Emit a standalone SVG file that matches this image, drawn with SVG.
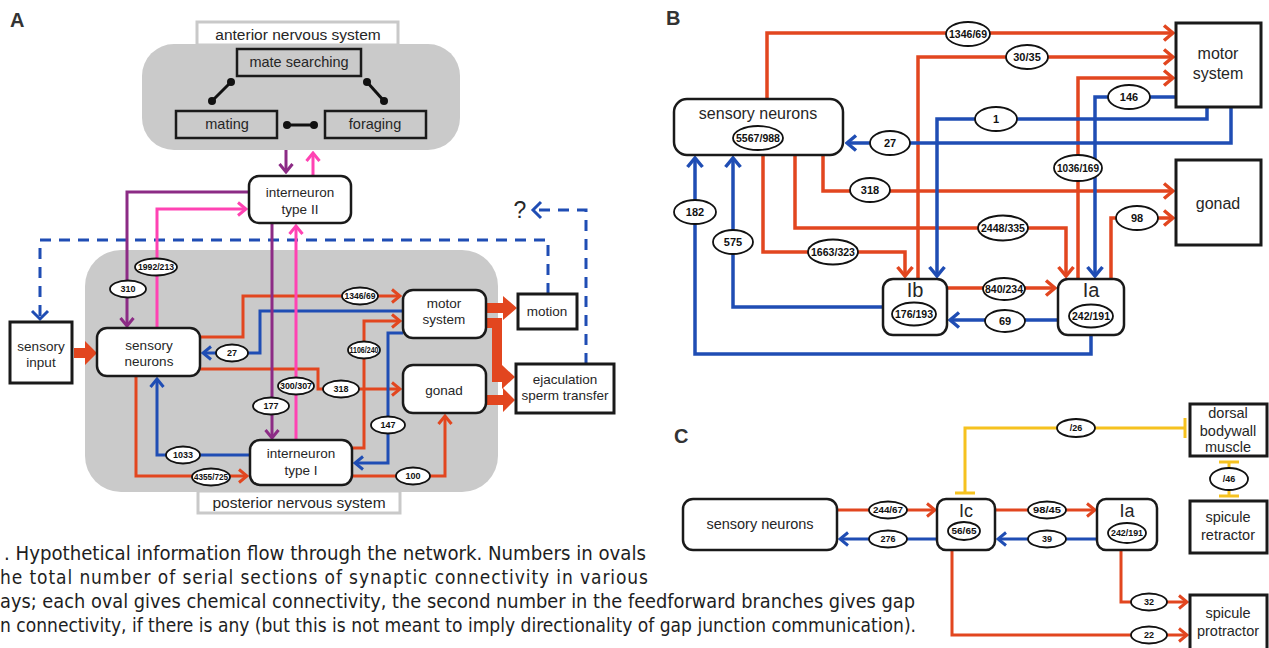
<svg xmlns="http://www.w3.org/2000/svg" width="1269" height="648" viewBox="0 0 1269 648">
<style>
text{font-family:"Liberation Sans",Arial,sans-serif;fill:#262626}
.lbl{font-size:20px;font-weight:bold;fill:#333}
.tA{font-size:13.5px;text-anchor:middle}
.tAn{font-size:14.5px;text-anchor:middle}
.tL{font-size:15.5px;text-anchor:middle}
.tB{font-size:16px;text-anchor:middle}
.tC{font-size:14.5px;text-anchor:middle}
.big{font-size:20px;text-anchor:middle}
.bigC{font-size:18px;text-anchor:middle}
.box{fill:#fff;stroke:#1a1a1a;stroke-width:2.5}
.sq{fill:#fff;stroke:#1a1a1a;stroke-width:3}
.gbox{fill:#cacaca;stroke:#1a1a1a;stroke-width:2.5}
.gray{fill:#cacaca}
.lab{fill:#fff;stroke:#c9c9c9;stroke-width:3}
.ov{fill:#fff;stroke:#111;stroke-width:1.8}
.oa{font-size:9px;font-weight:bold;text-anchor:middle;fill:#111}
.ob{font-size:11px;font-weight:bold;text-anchor:middle;fill:#111}
.oc{font-size:9px;font-weight:bold;text-anchor:middle;fill:#111}
.ln{fill:none;stroke-width:3}
.lnB{fill:none;stroke-width:3.5}
.r{stroke:#e2461f}
.b{stroke:#1f4db4}
.p{stroke:#8c2b85}
.k{stroke:#ff43b3}
.y{stroke:#f6c21f}
.dash{fill:none;stroke:#1f4db4;stroke-width:3;stroke-dasharray:11 8}
.thick{fill:#e2461f}
.db{stroke:#111;stroke-width:3}
.dot{fill:#111}
.cap{font-family:"DejaVu Sans Condensed","Roboto","Liberation Sans",sans-serif;font-size:19px;fill:#1e1e1e}
</style>
<defs>
<marker id="mR" viewBox="0 0 12 16" refX="10" refY="8" markerWidth="12" markerHeight="16" markerUnits="userSpaceOnUse" orient="auto"><path d="M2,1.5 L10,8 L2,14.5" fill="none" stroke="#e2461f" stroke-width="3"/></marker>
<marker id="mB" viewBox="0 0 12 16" refX="10" refY="8" markerWidth="12" markerHeight="16" markerUnits="userSpaceOnUse" orient="auto"><path d="M2,1.5 L10,8 L2,14.5" fill="none" stroke="#1f4db4" stroke-width="3"/></marker>
<marker id="mP" viewBox="0 0 12 16" refX="10" refY="8" markerWidth="12" markerHeight="16" markerUnits="userSpaceOnUse" orient="auto"><path d="M2,1.5 L10,8 L2,14.5" fill="none" stroke="#8c2b85" stroke-width="3"/></marker>
<marker id="mK" viewBox="0 0 12 16" refX="10" refY="8" markerWidth="12" markerHeight="16" markerUnits="userSpaceOnUse" orient="auto"><path d="M2,1.5 L10,8 L2,14.5" fill="none" stroke="#ff43b3" stroke-width="3"/></marker>
<marker id="mR2" viewBox="0 0 13 18" refX="11" refY="9" markerWidth="13" markerHeight="18" markerUnits="userSpaceOnUse" orient="auto"><path d="M2,1.5 L11,9 L2,16.5" fill="none" stroke="#e2461f" stroke-width="3.5"/></marker>
<marker id="mB2" viewBox="0 0 13 18" refX="11" refY="9" markerWidth="13" markerHeight="18" markerUnits="userSpaceOnUse" orient="auto"><path d="M2,1.5 L11,9 L2,16.5" fill="none" stroke="#1f4db4" stroke-width="3.5"/></marker>
<marker id="tY" viewBox="0 0 4 20" refX="2" refY="10" markerWidth="4" markerHeight="20" markerUnits="userSpaceOnUse" orient="auto"><path d="M2,0 V20" stroke="#f6c21f" stroke-width="3"/></marker>
</defs>

<!-- Panel labels -->
<text class="lbl" x="10" y="27">A</text>
<text class="lbl" x="666" y="25">B</text>
<text class="lbl" x="674" y="443">C</text>

<!-- ===== Panel A backgrounds ===== -->
<g id="anterior-system">
<rect class="lab" x="197" y="22" width="201" height="23"/>
<rect class="gray" x="142" y="44" width="318" height="106" rx="32"/>
<text class="tL" x="298" y="40">anterior nervous system</text>
</g>
<g id="posterior-system">
<rect class="gray" x="85" y="250" width="413" height="242" rx="36"/>
<rect class="lab" x="198" y="491" width="202" height="22"/>
<text class="tL" x="299" y="508">posterior nervous system</text>
</g>

<!-- ===== Panel A connectors ===== -->
<g id="connectors-A">
<line class="db" x1="212" y1="101" x2="231" y2="82"/><circle class="dot" cx="212" cy="101" r="4"/><circle class="dot" cx="231" cy="82" r="4"/>
<line class="db" x1="367" y1="82" x2="384" y2="101"/><circle class="dot" cx="367" cy="82" r="4"/><circle class="dot" cx="384" cy="101" r="4"/>
<line class="db" x1="287" y1="125" x2="314" y2="125"/><circle class="dot" cx="287" cy="125" r="4"/><circle class="dot" cx="314" cy="125" r="4"/>

<path class="ln p" d="M286,150 V172" marker-end="url(#mP)"/>
<path class="ln k" d="M313,176 V153" marker-end="url(#mK)"/>

<path class="dash" d="M548,294 V240 H40 V319" />
<path d="M32,311 L40,319 L48,311" fill="none" stroke="#1f4db4" stroke-width="3"/>
<path class="dash" d="M586,364 V210 H534"/>
<path d="M541,202 L533,210 L541,218" fill="none" stroke="#1f4db4" stroke-width="3"/>

<path class="ln p" d="M249,192 H127 V326" marker-end="url(#mP)"/>
<path class="ln k" d="M157,328 V209 H246" marker-end="url(#mK)"/>
<path class="ln r" d="M200,337 H243 V296 H400" marker-end="url(#mR)"/>
<path class="ln b" d="M403,311 H260 V353 H203" marker-end="url(#mB)"/>
<path class="ln r" d="M200,369 H318 V389 H400" marker-end="url(#mR)"/>
<path class="ln r" d="M136,376 V476 H247" marker-end="url(#mR)"/>
<path class="ln b" d="M250,455 H157 V379" marker-end="url(#mB)"/>
<path class="ln r" d="M352,448 H364 V321 H400" marker-end="url(#mR)"/>
<path class="ln b" d="M403,333 H388 V463 H355" marker-end="url(#mB)"/>
<path class="ln r" d="M352,476 H445 V416" marker-end="url(#mR)"/>
<path class="ln p" d="M272,223 V438" marker-end="url(#mP)"/>
<path class="ln k" d="M296,440 V226" marker-end="url(#mK)"/>

<polygon class="thick" points="74,348 85,348 85,341 97,353 85,365 85,358 74,358"/>
<polygon class="thick" points="486,303 503,303 503,296 517,308 503,320 503,313 486,313"/>
<polyline points="486,323 497,323 497,377 503,377" fill="none" stroke="#e2461f" stroke-width="10"/>
<polygon class="thick" points="502,365 515,377 502,389"/>
<polygon class="thick" points="486,395 503,395 503,388 515,400 503,412 503,405 486,405"/>

<text x="520" y="218" font-size="23" text-anchor="middle">?</text>

<g id="ovals-A">
<ellipse class="ov" cx="128" cy="289" rx="18" ry="8.5"/><text class="oa" x="128" y="292">310</text>
<ellipse class="ov" cx="156" cy="267" rx="21" ry="8.5"/><text class="oa" x="156" y="270" textLength="36" lengthAdjust="spacingAndGlyphs">1992/213</text>
<ellipse class="ov" cx="232" cy="353" rx="16" ry="8.5"/><text class="oa" x="232" y="356">27</text>
<ellipse class="ov" cx="360" cy="296" rx="18" ry="8.5"/><text class="oa" x="360" y="299" textLength="31" lengthAdjust="spacingAndGlyphs">1346/69</text>
<ellipse class="ov" cx="271" cy="406" rx="18" ry="8.5"/><text class="oa" x="271" y="409">177</text>
<ellipse class="ov" cx="296" cy="386" rx="18" ry="8.5"/><text class="oa" x="296" y="389" textLength="32" lengthAdjust="spacingAndGlyphs">300/307</text>
<ellipse class="ov" cx="341" cy="389" rx="18" ry="8.5"/><text class="oa" x="341" y="392">318</text>
<ellipse class="ov" cx="364" cy="350" rx="16" ry="8.5"/><text class="oa" x="364" y="353" textLength="29" lengthAdjust="spacingAndGlyphs">1106/240</text>
<ellipse class="ov" cx="388" cy="425" rx="17" ry="8.5"/><text class="oa" x="388" y="428">147</text>
<ellipse class="ov" cx="183" cy="455" rx="17" ry="8.5"/><text class="oa" x="183" y="458">1033</text>
<ellipse class="ov" cx="211" cy="477" rx="19" ry="8.5"/><text class="oa" x="211" y="480" textLength="34" lengthAdjust="spacingAndGlyphs">4355/725</text>
<ellipse class="ov" cx="413" cy="476" rx="17" ry="8.5"/><text class="oa" x="413" y="479">100</text>
</g>
</g>

<!-- ===== Panel A nodes ===== -->
<g id="mate-searching"><rect class="gbox" x="237" y="49" width="124" height="27"/><text class="tAn" x="299" y="67">mate searching</text></g>
<g id="mating"><rect class="gbox" x="176" y="111" width="101" height="27"/><text class="tAn" x="227" y="129">mating</text></g>
<g id="foraging"><rect class="gbox" x="325" y="111" width="101" height="27"/><text class="tAn" x="375" y="129">foraging</text></g>
<g id="interneuron-II"><rect class="box" x="249" y="176" width="102" height="47" rx="10"/><text class="tA" x="300" y="197">interneuron</text><text class="tA" x="300" y="214">type II</text></g>
<g id="interneuron-I"><rect class="box" x="250" y="440" width="102" height="45" rx="10"/><text class="tA" x="301" y="458">interneuron</text><text class="tA" x="301" y="475">type I</text></g>
<g id="sensory-input"><rect class="sq" x="10" y="322" width="62" height="61"/><text class="tA" x="41" y="351">sensory</text><text class="tA" x="41" y="367">input</text></g>
<g id="sensory-neurons-A"><rect class="box" x="97" y="328" width="103" height="48" rx="10"/><text class="tA" x="149" y="350">sensory</text><text class="tA" x="149" y="366">neurons</text></g>
<g id="motor-system-A"><rect class="box" x="403" y="290" width="83" height="48" rx="10"/><text class="tA" x="444" y="308">motor</text><text class="tA" x="444" y="324">system</text></g>
<g id="gonad-A"><rect class="box" x="403" y="365" width="83" height="48" rx="10"/><text class="tA" x="444" y="395">gonad</text></g>
<g id="motion"><rect class="sq" x="518" y="294" width="59" height="35"/><text class="tA" x="547" y="316">motion</text></g>
<g id="ejaculation"><rect class="sq" x="516" y="364" width="98" height="49"/><text class="tA" x="565" y="384">ejaculation</text><text class="tA" x="565" y="400">sperm transfer</text></g>

<!-- ===== Panel B connectors ===== -->
<g id="connectors-B">
<path class="lnB r" d="M767,99 V33 H1173" marker-end="url(#mR2)"/>
<path class="lnB r" d="M918,279 V57 H1173" marker-end="url(#mR2)"/>
<path class="lnB r" d="M1078,279 V78 H1173" marker-end="url(#mR2)"/>
<path class="lnB r" d="M823,155 V191 H1173" marker-end="url(#mR2)"/>
<path class="lnB r" d="M795,155 V228 H1066 V276" marker-end="url(#mR2)"/>
<path class="lnB r" d="M763,155 V252 H905 V276" marker-end="url(#mR2)"/>
<path class="lnB r" d="M947,288 H1055" marker-end="url(#mR2)"/>
<path class="lnB r" d="M1111,279 V218 H1173" marker-end="url(#mR2)"/>
<path class="lnB b" d="M1176,97 H1095 V276" marker-end="url(#mB2)"/>
<path class="lnB b" d="M1207,107 V119 H937 V276" marker-end="url(#mB2)"/>
<path class="lnB b" d="M1231,107 V143 H847" marker-end="url(#mB2)"/>
<path class="lnB b" d="M1058,320 H950" marker-end="url(#mB2)"/>
<path class="lnB b" d="M883,307 H733 V158" marker-end="url(#mB2)"/>
<path class="lnB b" d="M1091,335 V354 H695 V158" marker-end="url(#mB2)"/>
<g id="ovals-B">
<ellipse class="ov" cx="968" cy="34" rx="22" ry="12"/><text class="ob" x="968" y="38" textLength="38" lengthAdjust="spacingAndGlyphs">1346/69</text>
<ellipse class="ov" cx="1027" cy="57" rx="21" ry="12"/><text class="ob" x="1027" y="61">30/35</text>
<ellipse class="ov" cx="1078" cy="168" rx="24" ry="13"/><text class="ob" x="1078" y="172" textLength="42" lengthAdjust="spacingAndGlyphs">1036/169</text>
<ellipse class="ov" cx="1129" cy="97" rx="21" ry="12"/><text class="ob" x="1129" y="101">146</text>
<ellipse class="ov" cx="996" cy="119" rx="21" ry="12"/><text class="ob" x="996" y="123">1</text>
<ellipse class="ov" cx="890" cy="143" rx="20" ry="12"/><text class="ob" x="890" y="147">27</text>
<ellipse class="ov" cx="870" cy="190" rx="20" ry="12"/><text class="ob" x="870" y="194">318</text>
<ellipse class="ov" cx="1003" cy="228" rx="25" ry="12.5"/><text class="ob" x="1003" y="232" textLength="44" lengthAdjust="spacingAndGlyphs">2448/335</text>
<ellipse class="ov" cx="833" cy="252" rx="25" ry="12.5"/><text class="ob" x="833" y="256" textLength="44" lengthAdjust="spacingAndGlyphs">1663/323</text>
<ellipse class="ov" cx="1004" cy="289" rx="21" ry="11"/><text class="ob" x="1004" y="293" textLength="38" lengthAdjust="spacingAndGlyphs">840/234</text>
<ellipse class="ov" cx="1005" cy="321" rx="20" ry="11"/><text class="ob" x="1005" y="325">69</text>
<ellipse class="ov" cx="1137" cy="218" rx="21" ry="12"/><text class="ob" x="1137" y="222">98</text>
<ellipse class="ov" cx="733" cy="242" rx="20" ry="12"/><text class="ob" x="733" y="246">575</text>
<ellipse class="ov" cx="695" cy="212" rx="21" ry="12"/><text class="ob" x="695" y="216">182</text>
</g>
</g>

<!-- ===== Panel B nodes ===== -->
<g id="sensory-neurons-B"><rect class="box" x="674" y="99" width="169" height="56" rx="13"/><text class="tB" x="758" y="119">sensory neurons</text><ellipse class="ov" cx="758" cy="138" rx="25" ry="12"/><text class="ob" x="758" y="142" textLength="44" lengthAdjust="spacingAndGlyphs">5567/988</text></g>
<g id="motor-system-B"><rect class="sq" x="1176" y="23" width="85" height="84"/><text class="tB" x="1218" y="59">motor</text><text class="tB" x="1218" y="79">system</text></g>
<g id="gonad-B"><rect class="sq" x="1176" y="160" width="85" height="85"/><text class="tB" x="1218" y="209">gonad</text></g>
<g id="Ib"><rect class="box" x="883" y="279" width="64" height="56" rx="10"/><text class="big" x="915" y="297">Ib</text><ellipse class="ov" cx="914" cy="314" rx="22" ry="11.5"/><text class="ob" x="914" y="318" textLength="38" lengthAdjust="spacingAndGlyphs">176/193</text></g>
<g id="Ia-B"><rect class="box" x="1058" y="279" width="66" height="56" rx="10"/><text class="big" x="1091" y="297">Ia</text><ellipse class="ov" cx="1091" cy="316" rx="22" ry="11.5"/><text class="ob" x="1091" y="320" textLength="38" lengthAdjust="spacingAndGlyphs">242/191</text></g>

<!-- ===== Panel C connectors ===== -->
<g id="connectors-C">
<path class="ln r" d="M837,510 H935" marker-end="url(#mR)"/>
<path class="ln b" d="M937,539 H840" marker-end="url(#mB)"/>
<path class="ln r" d="M995,510 H1095" marker-end="url(#mR)"/>
<path class="ln b" d="M1097,539 H998" marker-end="url(#mB)"/>
<path class="ln y" d="M965,493 V428 H1185" marker-start="url(#tY)" marker-end="url(#tY)"/>
<path class="ln y" d="M1229,462 V496" marker-start="url(#tY)" marker-end="url(#tY)"/>
<path class="ln r" d="M1121,550 V602 H1187" marker-end="url(#mR)"/>
<path class="ln r" d="M952,550 V635 H1187" marker-end="url(#mR)"/>
<g id="ovals-C">
<ellipse class="ov" cx="888" cy="510" rx="19" ry="8.5"/><text class="oc" x="888" y="513" textLength="30" lengthAdjust="spacingAndGlyphs">244/67</text>
<ellipse class="ov" cx="888" cy="539" rx="19" ry="8.5"/><text class="oc" x="888" y="542">276</text>
<ellipse class="ov" cx="1047" cy="510" rx="19" ry="8.5"/><text class="oc" x="1047" y="513" textLength="28" lengthAdjust="spacingAndGlyphs">98/45</text>
<ellipse class="ov" cx="1047" cy="539" rx="19" ry="8.5"/><text class="oc" x="1047" y="542">39</text>
<ellipse class="ov" cx="1076" cy="428" rx="19" ry="9"/><text class="oc" x="1076" y="431">/26</text>
<ellipse class="ov" cx="1229" cy="479" rx="19" ry="11"/><text class="oc" x="1229" y="482">/46</text>
<ellipse class="ov" cx="1149" cy="602" rx="18" ry="8.5"/><text class="oc" x="1149" y="605">32</text>
<ellipse class="ov" cx="1149" cy="635" rx="18" ry="8.5"/><text class="oc" x="1149" y="638">22</text>
</g>
</g>

<!-- ===== Panel C nodes ===== -->
<g id="sensory-neurons-C"><rect class="box" x="683" y="499" width="154" height="51" rx="10"/><text class="tC" x="760" y="529">sensory neurons</text></g>
<g id="Ic"><rect class="box" x="937" y="499" width="58" height="51" rx="9"/><text class="bigC" x="966" y="517">Ic</text><ellipse class="ov" cx="964" cy="531" rx="16" ry="9"/><text class="oc" x="964" y="534" textLength="25" lengthAdjust="spacingAndGlyphs">56/65</text></g>
<g id="Ia-C"><rect class="box" x="1097" y="499" width="60" height="51" rx="9"/><text class="bigC" x="1127" y="517">Ia</text><ellipse class="ov" cx="1127" cy="533" rx="19" ry="10"/><text class="oc" x="1127" y="536" textLength="32" lengthAdjust="spacingAndGlyphs">242/191</text></g>
<g id="dorsal-bodywall-muscle"><rect class="sq" x="1190" y="404" width="77" height="52"/><text class="tC" x="1228" y="418">dorsal</text><text class="tC" x="1228" y="436">bodywall</text><text class="tC" x="1228" y="452">muscle</text></g>
<g id="spicule-retractor"><rect class="sq" x="1190" y="501" width="77" height="52"/><text class="tC" x="1228" y="522">spicule</text><text class="tC" x="1228" y="540">retractor</text></g>
<g id="spicule-protractor"><rect class="sq" x="1190" y="595" width="77" height="62"/><text class="tC" x="1228" y="618">spicule</text><text class="tC" x="1228" y="636">protractor</text></g>

<!-- ===== Caption ===== -->
<g id="caption">
<text class="cap" x="4" y="560" textLength="642" lengthAdjust="spacingAndGlyphs">. Hypothetical information flow through the network. Numbers in ovals</text>
<text class="cap" x="0" y="584" textLength="648" lengthAdjust="spacing">he total number of serial sections of synaptic connectivity in various</text>
<text class="cap" x="0" y="608" textLength="915" lengthAdjust="spacingAndGlyphs">ays; each oval gives chemical connectivity, the second number in the feedforward branches gives gap</text>
<text class="cap" x="0" y="632" textLength="916" lengthAdjust="spacingAndGlyphs">n connectivity, if there is any (but this is not meant to imply directionality of gap junction communication).</text>
</g>
</svg>
